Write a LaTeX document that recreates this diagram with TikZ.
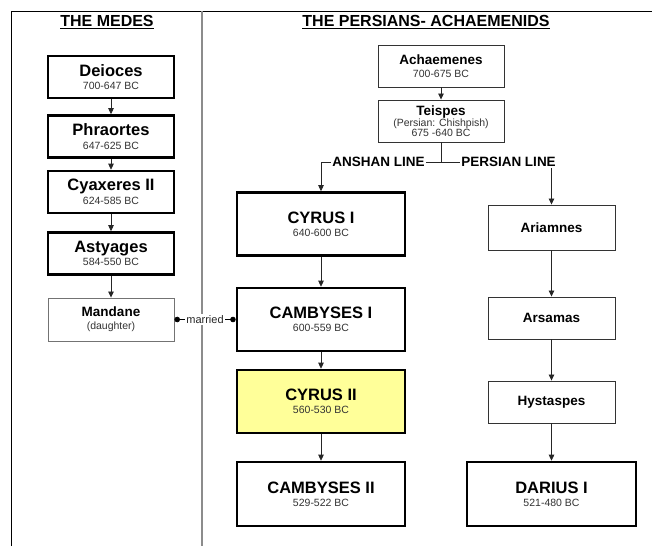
\documentclass[tikz,border=0pt]{standalone}
\usepackage{fontspec}
\setmainfont{Liberation Sans}
\usetikzlibrary{arrows.meta}
\definecolor{datecol}{HTML}{333333}
\definecolor{hilite}{HTML}{FFFF99}
\begin{document}
\begin{tikzpicture}[x=1pt,y=-1pt,
  thickbox/.style={draw=black,line width=2.6pt,fill=white,inner sep=0pt,align=center},
  thinbox/.style={draw=black!80,line width=0.9pt,fill=white,inner sep=0pt,align=center},
  arr/.style={draw=black!85,line width=0.8pt,-{Triangle[length=6pt,width=5.5pt]}},
  lbl/.style={fill=white,inner sep=1pt,font=\fontsize{13.5}{15}\selectfont\bfseries},
  ttl/.style={font=\fontsize{16}{18}\selectfont\bfseries}
]
\newcommand{\dt}[1]{{\fontsize{10.5}{12}\selectfont\mdseries\color{datecol}#1}}
\newcommand{\bn}[1]{{\fontsize{16.5}{18}\selectfont\bfseries #1}}
\newcommand{\sn}[1]{{\fontsize{13.5}{15}\selectfont\bfseries #1}}
\useasboundingbox (0,0) rectangle (652,546);
% frame
\draw[line width=0.9pt] (11,546) -- (11,11) -- (652,11);
\draw[line width=1.2pt,draw=black!45] (202,11) -- (202,546);
% titles
\node[ttl] (tmedes) at (107,22) {\underline{THE MEDES}};
\node[ttl] (tpers) at (426,22) {\underline{THE PERSIANS- ACHAEMENIDS}};
% Medes
\node[thickbox,minimum width=126,minimum height=42] (deioces) at (111,77) {\bn{Deioces}\\[1.5pt]\dt{700-647 BC}};
\node[thickbox,minimum width=126,minimum height=42] (phraortes) at (111,136.5) {\bn{Phraortes}\\[1.5pt]\dt{647-625 BC}};
\node[thickbox,minimum width=126,minimum height=42] (cyax) at (111,192) {\bn{Cyaxeres II}\\[1.5pt]\dt{624-585 BC}};
\node[thickbox,minimum width=126,minimum height=42] (asty) at (111,253.5) {\bn{Astyages}\\[1.5pt]\dt{584-550 BC}};
\node[thinbox,draw=black!55,minimum width=126,minimum height=43] (mandane) at (111,319.5) {\sn{Mandane}\\[1pt]\dt{(daughter)}};
\draw[arr] (deioces) -- (phraortes);
\draw[arr] (phraortes) -- (cyax);
\draw[arr] (cyax) -- (asty);
\draw[arr] (asty) -- (mandane);
% Persians
\node[thinbox,minimum width=126,minimum height=42] (achaem) at (441,66) {\sn{Achaemenes}\\[1pt]\dt{700-675 BC}};
\node[thinbox,minimum width=126,minimum height=42] (teispes) at (441,121) {\sn{Teispes}\\[-1pt]\dt{(Persian: Chishpish)}\\[-2pt]\dt{675 -640 BC}};
\draw[arr] (achaem) -- (teispes);
% Anshan line
\node[thickbox,minimum width=168,minimum height=63] (cyrus1) at (321,224) {\bn{CYRUS I}\\[1pt]\dt{640-600 BC}};
\node[thickbox,minimum width=168,minimum height=63] (camb1) at (321,319.5) {\bn{CAMBYSES I}\\[1pt]\dt{600-559 BC}};
\node[thickbox,fill=hilite,minimum width=168,minimum height=63] (cyrus2) at (321,401.5) {\bn{CYRUS II}\\[1pt]\dt{560-530 BC}};
\node[thickbox,minimum width=168,minimum height=64] (camb2) at (321,494) {\bn{CAMBYSES II}\\[1pt]\dt{529-522 BC}};
% Persian line
\node[thinbox,minimum width=127,minimum height=45] (ariam) at (551.5,227.5) {\sn{Ariamnes}};
\node[thinbox,minimum width=127,minimum height=42] (arsam) at (551.5,318) {\sn{Arsamas}};
\node[thinbox,minimum width=127,minimum height=42] (hyst) at (551.5,402) {\sn{Hystaspes}};
\node[thickbox,minimum width=169,minimum height=64] (darius) at (551.5,494) {\bn{DARIUS I}\\[1pt]\dt{521-480 BC}};
% branch connectors
\coordinate (split) at (441,162);
\draw[arr] (teispes.south) -- (split) -| (cyrus1.north);
\draw[arr] (split) -| (ariam.north);
\node[lbl] (anshan) at (378.5,162) {ANSHAN LINE};
\node[lbl] (perslbl) at (508.5,162) {PERSIAN LINE};
\draw[arr] (cyrus1) -- (camb1);
\draw[arr] (camb1) -- (cyrus2);
\draw[arr] (cyrus2) -- (camb2);
\draw[arr] (ariam) -- (arsam);
\draw[arr] (arsam) -- (hyst);
\draw[arr] (hyst) -- (darius);
% married
\draw[line width=0.8pt,{Circle[length=5.5pt]}-{Circle[length=5.5pt]}] (mandane.east) -- (camb1.west);
\node[fill=white,inner sep=1pt,font=\fontsize{11}{13}\selectfont,text=black!85] (married) at (205,319.5) {married};
\end{tikzpicture}
\end{document}
